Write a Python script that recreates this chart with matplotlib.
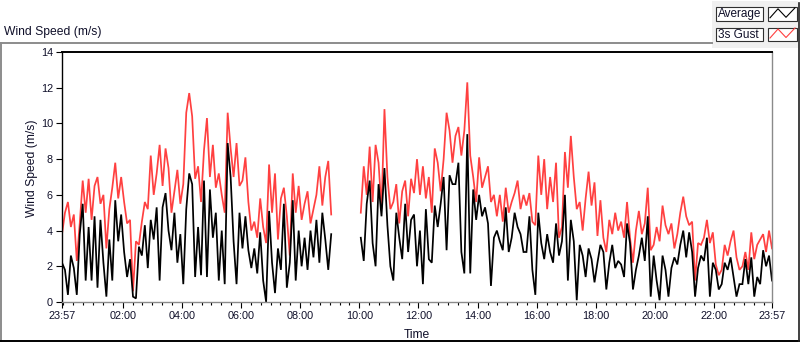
import numpy as np
import matplotlib
matplotlib.use("Agg")
import matplotlib.pyplot as plt
from matplotlib.lines import Line2D
from matplotlib.patches import Rectangle

W, H = 800, 342
FONT = ["Liberation Sans", "DejaVu Sans"]
plt.rcParams["font.family"] = FONT

# ---------------- data (6-minute samples starting 23:57) ----------------
STEP_MIN = 6
GAP_SAMPLES = 9  # logger gap between ~09:09 and ~10:00

avg_night = [2.2, 1.8, 0.4, 2.6, 1.9, 0.4, 3.8, 5.5, 1.2, 4.2,
             1.2, 4.8, 0.8, 4.6, 2.2, 0.3, 3.5, 1.2, 5.7, 3.4,
             4.9, 2.8, 1.4, 2.4, 0.3, 0.2, 3.1, 2.6, 4.3, 1.9,
             4.6, 3.5, 5.3, 1.2, 5.3, 6.1, 4.0, 2.9, 5.0, 2.2,
             3.8, 1.0, 5.2, 7.2, 6.6, 1.4, 4.2, 1.5, 6.8, 1.4,
             6.3, 3.6, 5.0, 1.2, 4.0, 1.0, 8.9, 7.0, 3.4, 1.0,
             5.0]
avg_morning = [3.0, 4.8, 2.9, 1.9, 3.0, 1.6, 3.9, 1.2, 0.0, 5.1,
               2.2, 0.5, 3.0, 1.8, 5.5, 0.8, 2.2, 5.7, 1.2, 4.0,
               2.0, 3.6, 1.8, 4.0, 2.5, 4.6, 2.2, 5.0, 3.5, 1.8,
               3.8]
avg_midday = [3.6, 2.3, 5.5, 6.8, 3.3, 2.0, 6.6, 4.8, 7.5, 4.3,
              2.0, 1.2, 5.0, 3.6, 2.4, 5.5, 2.8, 4.6, 4.9,
              2.0, 4.0, 1.0, 5.2, 2.4, 2.2, 5.4, 4.2, 5.5, 7.0,
              2.9, 7.1, 6.6, 6.6, 7.8, 2.8, 1.6, 9.4, 1.6, 6.3,
              4.6, 6.0, 4.8, 5.3, 4.4, 0.9, 3.6, 4.0, 3.4, 2.9,
              5.3, 2.8, 3.6, 5.0, 4.2, 3.8, 2.8, 2.8, 4.8, 1.8,
              0.4]
avg_evening = [5.0, 3.3, 2.4, 3.8, 2.8, 2.2, 4.4, 2.6, 3.4, 6.0,
               1.2, 4.6, 3.4, 0.1, 3.2, 2.6, 1.4, 3.0, 2.4, 1.1,
               2.2, 3.2, 2.8, 0.7, 2.2, 3.2, 1.9, 2.3, 2.1, 1.4,
               4.4, 3.3, 0.7, 1.8, 2.6, 3.6, 2.3, 4.8, 0.3, 2.6,
               1.2, 0.1, 2.6, 1.8, 0.3, 1.9, 2.5, 2.1, 3.2, 4.0,
               2.5, 3.9, 2.8, 0.3, 1.9, 2.6, 2.3, 3.6, 0.3, 2.2,
               1.8, 0.7, 1.0, 2.2, 1.8, 2.5, 1.4, 0.3, 1.0, 1.0,
               2.4, 1.0, 2.5, 0.3, 1.4, 1.0, 2.9, 2.0, 2.6, 1.2]

gust_night = [3.8, 5.0, 5.6, 4.2, 4.9, 2.3, 4.4, 6.8, 5.0, 6.9,
              4.6, 6.5, 7.0, 5.5, 6.0, 3.0, 5.2, 6.4, 7.8, 5.8,
              7.0, 5.6, 4.4, 4.6, 0.6, 3.4, 3.2, 4.5, 5.6, 5.2,
              8.2, 6.0, 7.2, 8.8, 6.5, 8.6, 7.5, 5.0, 6.2, 7.4,
              5.5, 6.6, 10.6, 11.7, 10.4, 6.9, 7.6, 5.6, 8.5, 10.3,
              7.0, 8.8, 6.4, 7.2, 6.0, 5.0, 10.6, 8.6, 7.0, 8.9,
              6.5]
gust_morning = [6.8, 8.1, 5.6, 4.0, 4.5, 3.6, 5.8, 4.2, 3.3, 7.7,
                5.0, 7.2, 3.5, 5.8, 6.4, 4.8, 2.6, 7.2, 5.0, 6.5,
                4.6, 5.5, 6.2, 4.4, 5.2, 6.0, 7.6, 5.4, 7.0, 7.9,
                4.9]
gust_midday = [5.0, 7.6, 6.0, 8.7, 5.6, 8.8, 7.8, 5.2, 10.8, 7.0,
               5.2, 5.6, 6.6, 4.4, 6.2, 6.8, 4.8, 6.9, 6.1,
               8.0, 6.0, 7.6, 5.8, 7.0, 5.0, 8.6, 7.8, 6.2, 8.0,
               10.6, 9.6, 7.8, 9.3, 9.8, 8.2, 9.6, 12.3, 8.2, 7.0,
               5.6, 8.1, 6.4, 7.0, 7.6, 5.6, 6.0, 4.8, 6.0, 4.5,
               6.4, 5.0, 5.6, 6.1, 6.8, 5.2, 6.0, 5.4, 6.1, 4.5,
               4.3]
gust_evening = [8.2, 6.0, 8.0, 5.2, 7.0, 5.6, 7.8, 3.6, 4.2, 8.4,
                6.4, 9.3, 7.0, 5.2, 5.6, 4.0, 5.8, 7.3, 5.4, 6.7,
                3.7, 5.7, 3.6, 2.8, 4.6, 3.8, 5.0, 4.0, 4.5, 3.6,
                5.6, 3.6, 2.2, 4.0, 5.1, 3.8, 4.4, 6.4, 2.9, 3.2,
                4.2, 3.4, 5.4, 4.3, 3.8, 4.4, 3.0, 3.8, 5.0, 5.9,
                4.8, 4.3, 4.5, 1.2, 3.3, 3.2, 3.6, 4.6, 3.3, 3.9,
                2.1, 1.5, 1.8, 3.2, 2.6, 3.4, 4.0, 2.5, 1.8, 2.0,
                2.8, 1.8, 3.9, 2.4, 3.2, 3.5, 3.8, 2.8, 4.0, 3.0]

x_tick_labels = ["23:57", "02:00", "04:00", "06:00", "08:00", "10:00", "12:00",
                 "14:00", "16:00", "18:00", "20:00", "22:00", "23:57"]
x_tick_minutes = [0, 123, 243, 363, 483, 603, 723, 843, 963, 1083, 1203, 1323, 1440]
y_ticks = [0, 2, 4, 6, 8, 10, 12, 14]

gap = [np.nan] * GAP_SAMPLES
avg = np.array(avg_night + avg_morning + gap + avg_midday + avg_evening, dtype=float)
gust = np.array(gust_night + gust_morning + gap + gust_midday + gust_evening, dtype=float)
minutes = np.arange(len(avg)) * STEP_MIN

# ---------------- figure ----------------
fig = plt.figure(figsize=(W / 100, H / 100), dpi=100)
fig.patch.set_facecolor("white")

ax = fig.add_axes([62 / W, 1 - 302 / H, 710 / W, 250 / H])
ax.plot(minutes, gust, color="#ff4040", lw=1.25, solid_joinstyle="miter")
ax.plot(minutes, avg, color="black", lw=1.25, solid_joinstyle="miter")
ax.set_xlim(0, 1440)
ax.set_ylim(0, 14)

ax.set_yticks(y_ticks)
ax.set_yticklabels([str(v) for v in y_ticks])
ax.set_xticks(x_tick_minutes)
ax.set_xticklabels(x_tick_labels)
ax.set_xticks(np.arange(3, 1440, 20), minor=True)
ax.tick_params(axis="both", which="major", direction="out", length=4, width=0.8,
               colors="black", labelsize=7.8, pad=2.5, labelcolor="#10102a")
ax.tick_params(axis="x", which="minor", direction="out", length=2.3, width=0.8, colors="black")

for side, col, lw in [("top", "black", 1.4), ("left", "black", 1.0),
                      ("right", "#8a8a8a", 1.0), ("bottom", "#8a8a8a", 1.0)]:
    ax.spines[side].set_color(col)
    ax.spines[side].set_linewidth(lw)

txtc = "#10102a"
fig.text(417 / W, 1 - 334.5 / H, "Time", ha="center", va="center", fontsize=8.7, color=txtc)
fig.text(32 / W, 1 - 168 / H, "Wind Speed (m/s)", ha="center", va="center",
         rotation=90, fontsize=8.7, color=txtc)
fig.text(4 / W, 1 - 32.5 / H, "Wind Speed (m/s)", ha="left", va="center", fontsize=8.7, color=txtc)

# ---------------- frame and legend overlay (pixel coordinates) ----------------
ov = fig.add_axes([0, 0, 1, 1], zorder=5)
ov.set_xlim(0, W)
ov.set_ylim(H, 0)
ov.axis("off")
ov.patch.set_alpha(0)

ov.add_line(Line2D([0, 712], [42.5, 42.5], color="#8c8c8c", lw=1.4))
ov.add_line(Line2D([1, 1], [42.5, 342], color="#8c8c8c", lw=1.4))
ov.add_line(Line2D([0, 800], [341, 341], color="black", lw=1.4))
ov.add_line(Line2D([799, 799], [3, 342], color="#202020", lw=1.2))

ov.add_patch(Rectangle((712, 1), 86, 47, facecolor="#f0f0f0", edgecolor="none"))
for row_y, label, col in [(7.3, "Average", "black"), (27.5, "3s Gust", "#ff4040")]:
    ov.add_patch(Rectangle((715.5, row_y), 47.5, 13.5, facecolor="white",
                           edgecolor="#303030", lw=0.8))
    ov.add_patch(Rectangle((768, row_y), 29, 13.5, facecolor="white",
                           edgecolor="#303030", lw=0.8))
    ov.text(717.5, row_y + 7, label, ha="left", va="center", fontsize=8.5, color=txtc)
    ov.add_line(Line2D([770, 778, 786, 795],
                       [row_y + 10.5, row_y + 1.5, row_y + 10, row_y + 0.5],
                       color=col, lw=0.8))

fig.savefig("out.png", dpi=100)
